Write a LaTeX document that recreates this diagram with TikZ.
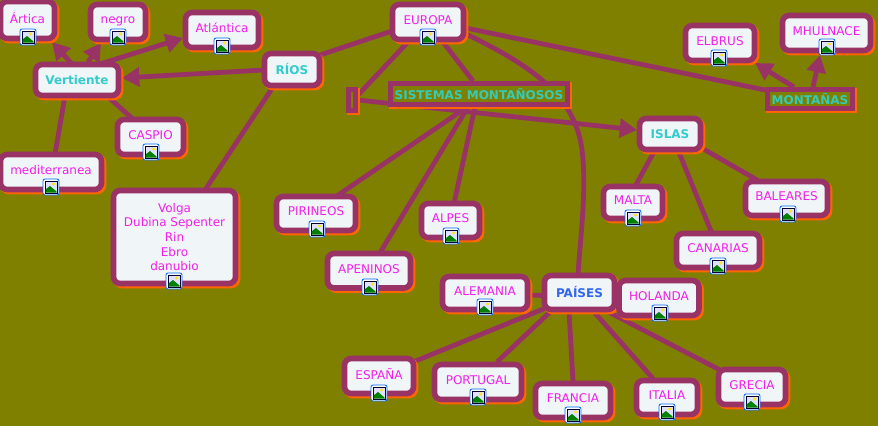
\documentclass[tikz,border=0pt]{standalone}
\usepackage{fontspec}
\setmainfont{DejaVu Sans}
\usetikzlibrary{arrows.meta,shadows,backgrounds}
\definecolor{bgC}{HTML}{808000}
\definecolor{lineC}{HTML}{993366}
\definecolor{fillC}{HTML}{F0F5F8}
\definecolor{shadowC}{HTML}{FF6600}
\definecolor{magC}{HTML}{F020E8}
\definecolor{tealC}{HTML}{33CCCC}
\definecolor{tealD}{HTML}{33CCBB}
\definecolor{blueC}{HTML}{3366EE}
\tikzset{
  basebox/.style={draw=lineC,line width=4.2pt,inner sep=0pt,outer sep=0pt,
    general shadow={shadow xshift=1.5pt,shadow yshift=-1.5pt,draw=shadowC,fill=shadowC},
    font=\fontsize{9pt}{10.9pt}\selectfont,align=center},
  roundbox/.style={basebox,fill=fillC,rounded corners=5pt,text=magC},
  titlebox/.style={roundbox,font=\fontsize{9pt}{10.9pt}\selectfont\bfseries,text=tealC},
  rectbox/.style={basebox,fill=bgC,font=\fontsize{9pt}{10.9pt}\selectfont\bfseries,text=tealD,
    general shadow={shadow xshift=1pt,shadow yshift=-1pt,draw=shadowC,fill=shadowC}},
  link/.style={draw=lineC,line width=3.6pt},
  arrowlink/.style={link,-{Triangle[width=14pt,length=13pt]}},
  pics/icon/.style={code={
    \fill[white,draw=blue!60!cyan,line width=.6pt,rounded corners=1.5pt] (-8,-8) rectangle (8,8);
    \fill[black!80!blue] (-6.5,-6.5) rectangle (6.5,6.5);
    \fill[blue!12!white] (-5.5,-5.5) rectangle (5.5,5.5);
    \fill[yellow!90!orange] (2.5,-3) circle[radius=1.6];
    \fill[green!50!black] (-5.5,5.5) -- (-5.5,2.5) -- (-1,-1) -- (5.5,4.5) -- (5.5,5.5) -- cycle;
  }}
}
\newcommand{\nd}[7][roundbox]{\node[#1,minimum width=#5*0.75pt,minimum height=#6*0.75pt] (#2) at (#3,#4) {#7};}
\newcommand{\up}[1]{\raisebox{3pt}{#1}}
\newcommand{\lk}[5][link]{\draw[#1] ([shift={(#3)}]#2.center) -- ([shift={(#5)}]#4.center);}
\begin{document}
\begin{tikzpicture}[x=0.75pt,y=-0.75pt]
\useasboundingbox (0,0) rectangle (878,426);
\begin{scope}[on background layer]
\fill[bgC] (0,0) rectangle (878,426);
\end{scope}
% nodes
\nd{artica}{27.5}{20}{54}{37}{\up{Ártica}}
\nd{negro}{118}{22}{55}{35}{\up{negro}}
\nd{atlantica}{222}{30}{73}{35}{\up{Atlántica}}
\nd[titlebox]{vertiente}{77}{80}{83}{31}{Vertiente}
\nd[titlebox]{rios}{292}{69.5}{55}{32}{RÍOS}
\nd{caspio}{150.5}{137}{66}{35}{\up{CASPIO}}
\nd{medit}{51}{172}{101}{35}{\up{mediterranea}}
\nd{lista}{174.5}{237}{122}{93}{\raisebox{2pt}{\parbox{80pt}{\centering Volga\\Dubina Sepenter\\Rin\\Ebro\\danubio}}}
\nd{europa}{428}{22}{71}{35}{\up{EUROPA}}
\nd[rectbox]{sistemas}{479}{94}{177}{21}{SISTEMAS MONTAÑOSOS}
\nd[rectbox]{enlace}{352}{100}{7}{21}{}
\nd[rectbox]{montanas}{810}{99}{85}{19}{MONTAÑAS}
\nd{elbrus}{720}{43}{69}{35}{\up{ELBRUS}}
\nd{mhulnace}{826.5}{33}{88}{35}{\up{MHULNACE}}
\nd[titlebox]{islas}{670}{134}{61}{31}{ISLAS}
\nd{malta}{633}{202.5}{59}{32}{\up{MALTA}}
\nd{baleares}{786.5}{198.5}{82}{34}{\up{BALEARES}}
\nd{canarias}{718}{250.5}{83}{34}{\up{CANARIAS}}
\nd{pirineos}{316}{213.5}{79}{34}{\up{PIRINEOS}}
\nd{alpes}{450.5}{220.5}{58}{34}{\up{ALPES}}
\nd{apeninos}{369}{270.75}{83}{34.5}{\up{APENINOS}}
\nd{alemania}{485}{293}{85}{33}{\up{ALEMANIA}}
\nd[titlebox,text=blueC]{paises}{579.5}{292.5}{70}{34}{PAÍSES}
\nd{holanda}{659}{298}{80}{35}{\up{HOLANDA}}
\nd{espana}{379}{376}{69}{35}{\up{ESPAÑA}}
\nd{portugal}{478}{382}{87}{35}{\up{PORTUGAL}}
\nd{francia}{573}{400.5}{75}{34}{\up{FRANCIA}}
\nd{italia}{667}{397.5}{61}{34}{\up{ITALIA}}
\nd{grecia}{752}{387}{67}{35}{\up{GRECIA}}
% icons
\foreach \ix/\iy in {28/37,118/37,222/46,151/152,51/187,174/281,428/37,719/58,827/47,633/218,788/214,718/266,317/229,451/236,370/287,485/307,660/313,379/393,478/397,573/415,667/412,752/402}
  \pic at (\ix,\iy) {icon};
% connectors
\begin{scope}[on background layer]
\lk[arrowlink]{vertiente}{-5,-16}{artica}{24.5,22}
\lk[arrowlink]{vertiente}{11,-18}{negro}{-17,21}
\lk[arrowlink]{vertiente}{23,-16}{atlantica}{-39,8}
\lk[arrowlink]{rios}{-28,.5}{vertiente}{45,-2}
\lk{vertiente}{30,16}{caspio}{-17.5,-18}
\lk{vertiente}{-12,16}{medit}{4,-18}
\lk{rios}{-18,16}{lista}{30.5,-47}
\lk{europa}{-36,9}{rios}{28,-14.5}
\lk{europa}{-20,20}{enlace}{6,-5}
\lk{europa}{15,20}{sistemas}{-6,-13}
\lk{europa}{38,6}{montanas}{-45,-9}
\coordinate (curva) at (582,150);
\draw[link] ([shift={(38,12)}]europa.center) .. controls (530,65) and (575,95) .. (curva) .. controls (587,190) and (580,240) .. ([shift={(-1.5,-17.5)}]paises.center);
\lk[arrowlink]{enlace}{6,0}{islas}{-33,-4}
\lk{sistemas}{-12,13}{pirineos}{20,-17}
\lk{sistemas}{-11,13}{apeninos}{11,-18}
\lk{sistemas}{-4,13}{alpes}{3.5,-17}
\lk[arrowlink]{montanas}{-16,-12}{elbrus}{35,20}
\lk[arrowlink]{montanas}{3,-12}{mhulnace}{-6.5,22}
\lk{islas}{-15,16}{malta}{2,-16}
\lk{islas}{8,16}{canarias}{-6,-17}
\lk{islas}{30,13}{baleares}{-28.5,-18}
\lk{paises}{-35,3}{alemania}{43,2}
\lk{paises}{-35,16}{espana}{34,-14}
\lk{paises}{-29,19}{portugal}{19,-20}
\lk{paises}{-10.5,19}{francia}{0,-19}
\lk{paises}{14,19}{italia}{-14,-19}
\lk{paises}{28,19}{grecia}{-32,-17}
\end{scope}
\end{tikzpicture}
\end{document}
